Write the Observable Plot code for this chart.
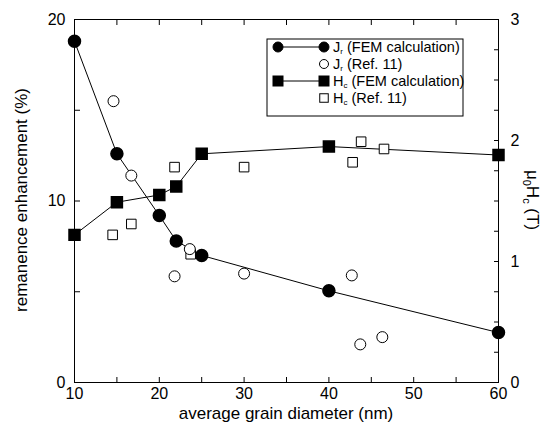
<!DOCTYPE html>
<html><head><meta charset="utf-8">
<script src="https://cdn.jsdelivr.net/npm/d3@7"></script>
<script src="https://cdn.jsdelivr.net/npm/@observablehq/plot@0.6"></script>
<style>body{margin:0;background:#fff;}</style>
</head><body><div id="chart"></div>
<script>
// grain diameter (nm) and remanence enhancement (%) - FEM
const xJfem = [10, 15, 20, 22, 25, 40, 60];
const jFem = [18.8, 12.6, 9.2, 7.8, 7.0, 5.05, 2.75];
// remanence enhancement (%) - Ref. 11
const xJref = [14.6, 16.7, 21.8, 23.6, 30.0, 42.7, 43.7, 46.3];
const jRef = [15.5, 11.4, 5.85, 7.35, 6.0, 5.9, 2.1, 2.5];
// coercive field mu0Hc (T) - FEM
const xHfem = [10, 15, 20, 22, 25, 40, 60];
const hFem = [1.22, 1.49, 1.55, 1.62, 1.89, 1.95, 1.88];
// coercive field mu0Hc (T) - Ref. 11
const xHref = [14.5, 16.7, 21.8, 23.7, 30.0, 42.8, 43.8, 46.5];
const hRef = [1.22, 1.31, 1.78, 1.06, 1.78, 1.82, 1.99, 1.93];

const xTicks = [10, 20, 30, 40, 50, 60];
const yLeftTicks = [0, 10, 20];
const yRightTicks = [0, 1, 2, 3];

const K = 20 / 3; // right axis (0..3 T) mapped onto left axis (0..20 %)
const toRows = (xs, ys) => xs.map((x, i) => ({x, y: ys[i]}));
const jF = toRows(xJfem, jFem), jR = toRows(xJref, jRef);
const hF = toRows(xHfem, hFem), hR = toRows(xHref, hRef);
const FONT = "Liberation Sans, Arial, Helvetica, sans-serif";

const plot = Plot.plot({
  width: 543, height: 433,
  marginLeft: 74, marginRight: 45, marginTop: 19, marginBottom: 51,
  x: {domain: [10, 60]},
  y: {domain: [0, 20]},
  style: {fontFamily: FONT, fontSize: "16px", color: "black", background: "white"},
  marks: [
    Plot.frame({stroke: "black", strokeWidth: 1}),
    Plot.axisX({ticks: xTicks, tickSize: 0, tickPadding: 5, fontSize: 16, label: null}),
    Plot.axisX({ticks: d3.range(10, 61, 5), tickSize: -5, tickFormat: () => "", label: null}),
    Plot.axisX({anchor: "top", ticks: d3.range(10, 61, 5), tickSize: -5, tickFormat: () => "", label: null}),
    Plot.axisY({ticks: yLeftTicks, tickSize: 0, tickPadding: 9, fontSize: 16, label: null}),
    Plot.axisY({ticks: [0, 5, 10, 15, 20], tickSize: -6, tickFormat: () => "", label: null}),
    Plot.axisY({anchor: "right", ticks: yRightTicks.map(v => v * K), tickSize: 0, tickPadding: 12,
      tickFormat: d => String(Math.round(d / K)), fontSize: 16, label: null}),
    Plot.axisY({anchor: "right", ticks: d3.range(0, 13).map(i => i * 0.25 * K), tickSize: -5, tickFormat: () => "", label: null}),
    Plot.line(jF, {x: "x", y: "y", stroke: "black", strokeWidth: 1}),
    Plot.line(hF, {x: "x", y: d => d.y * K, stroke: "black", strokeWidth: 1}),
    Plot.dot(hR, {x: "x", y: d => d.y * K, symbol: "square", r: 5.4, fill: "white", stroke: "black", strokeWidth: 1}),
    Plot.dot(jR, {x: "x", y: "y", r: 5.5, fill: "white", stroke: "black", strokeWidth: 1}),
    Plot.dot(jF, {x: "x", y: "y", r: 6, fill: "black", stroke: "black"}),
    Plot.dot(hF, {x: "x", y: d => d.y * K, symbol: "square", r: 6.2, fill: "black", stroke: "black"})
  ]
});
document.getElementById("chart").appendChild(plot);

// axis titles and legend
const svg = d3.select(plot);
svg.append("text").attr("x", 286).attr("y", 419).attr("text-anchor", "middle")
  .attr("font-family", FONT).attr("font-size", 17).attr("fill", "black")
  .text("average grain diameter (nm)");
svg.append("text").attr("transform", "translate(27,200) rotate(-90)").attr("text-anchor", "middle")
  .attr("font-family", FONT).attr("font-size", 17).attr("fill", "black")
  .text("remanence enhancement (%)");
const rl = svg.append("text").attr("transform", "translate(527,200) rotate(90)").attr("text-anchor", "middle")
  .attr("font-family", FONT).attr("font-size", 17).attr("fill", "black");
rl.append("tspan").text("\u03BC");
rl.append("tspan").attr("font-size", 11).attr("dy", 4).text("0");
rl.append("tspan").attr("dy", -4).text("H");
rl.append("tspan").attr("font-size", 11).attr("dy", 4).text("c");
rl.append("tspan").attr("dy", -4).text(" (T)");

const lg = svg.append("g").attr("font-family", FONT).attr("font-size", 14.5).attr("fill", "black")
  .attr("text-anchor", "start");
lg.append("rect").attr("x", 267).attr("y", 39).attr("width", 196).attr("height", 77)
  .attr("fill", "white").attr("stroke", "black").attr("stroke-width", 1);
const rows = [
  {y: 47, sym: "circle", fill: "black", line: true, main: "J", sub: "r", rest: " (FEM calculation)"},
  {y: 64, sym: "circle", fill: "white", line: false, main: "J", sub: "r", rest: " (Ref. 11)"},
  {y: 81, sym: "square", fill: "black", line: true, main: "H", sub: "c", rest: " (FEM calculation)"},
  {y: 98, sym: "square", fill: "white", line: false, main: "H", sub: "c", rest: " (Ref. 11)"}
];
for (const r of rows) {
  const xs = r.line ? [278, 324] : [324];
  if (r.line) lg.append("line").attr("x1", 278).attr("x2", 324).attr("y1", r.y).attr("y2", r.y).attr("stroke", "black");
  for (const x of xs) {
    if (r.sym === "circle") {
      lg.append("circle").attr("cx", x).attr("cy", r.y).attr("r", r.fill === "black" ? 5 : 4.5)
        .attr("fill", r.fill).attr("stroke", "black");
    } else {
      const s = r.fill === "black" ? 10 : 8.5;
      lg.append("rect").attr("x", x - s / 2).attr("y", r.y - s / 2).attr("width", s).attr("height", s)
        .attr("fill", r.fill).attr("stroke", "black");
    }
  }
  const t = lg.append("text").attr("x", 333).attr("y", r.y + 5).attr("text-anchor", "start");
  t.append("tspan").text(r.main);
  t.append("tspan").attr("font-size", 8).attr("dy", 2).text(r.sub);
  t.append("tspan").attr("dy", -2).text(r.rest);
}
</script></body></html>
